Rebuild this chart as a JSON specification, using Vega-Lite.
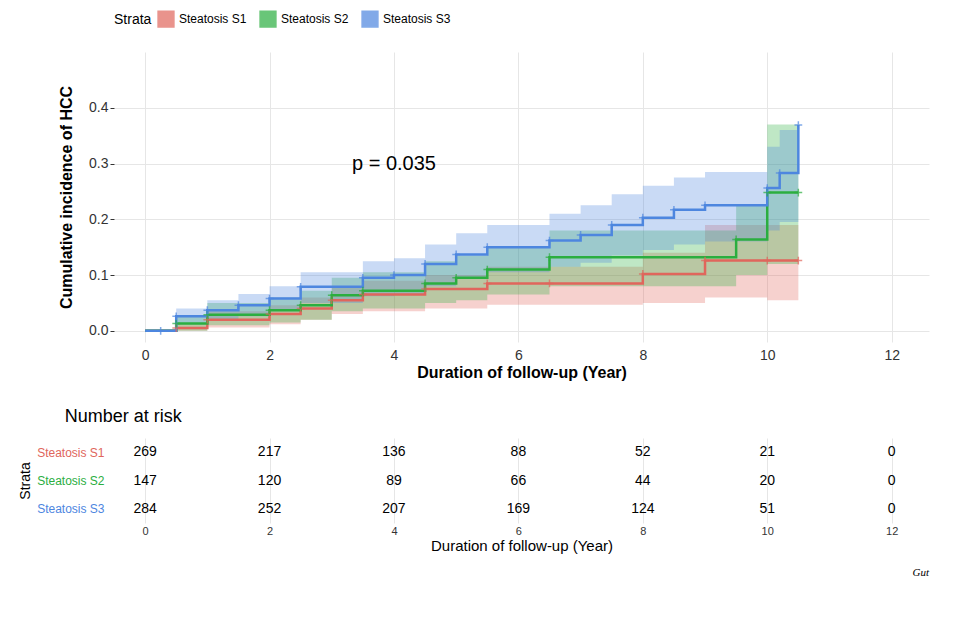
{
  "$schema": "https://vega.github.io/schema/vega-lite/v6.json",
  "background": "white",
  "padding": {"left": 18, "top": 10, "right": 5, "bottom": 5},
  "config": {
    "view": {"stroke": null},
    "font": "Liberation Sans",
    "axis": {"gridColor": "#e6e6e6", "domain": false, "tickColor": "#333", "tickSize": 4, "labelColor": "#333"}
  },
  "title": {"text": "Gut", "orient": "bottom", "anchor": "end", "font": "Liberation Serif", "fontStyle": "italic", "fontWeight": "normal", "fontSize": 11, "offset": 14},
  "datasets": {
    "km": [
      {"g": "Steatosis S1", "t": 0, "est": 0, "lo": 0, "hi": 0, "c": false},
      {"g": "Steatosis S1", "t": 0.5, "est": 0.005, "lo": 0, "hi": 0.012, "c": true},
      {"g": "Steatosis S1", "t": 1, "est": 0.02, "lo": 0.006, "hi": 0.035, "c": true},
      {"g": "Steatosis S1", "t": 2, "est": 0.03, "lo": 0.012, "hi": 0.046, "c": true},
      {"g": "Steatosis S1", "t": 2.5, "est": 0.04, "lo": 0.02, "hi": 0.06, "c": true},
      {"g": "Steatosis S1", "t": 3, "est": 0.055, "lo": 0.03, "hi": 0.08, "c": true},
      {"g": "Steatosis S1", "t": 3.5, "est": 0.065, "lo": 0.035, "hi": 0.09, "c": true},
      {"g": "Steatosis S1", "t": 4.5, "est": 0.075, "lo": 0.04, "hi": 0.1, "c": true},
      {"g": "Steatosis S1", "t": 5.5, "est": 0.085, "lo": 0.047, "hi": 0.115, "c": true},
      {"g": "Steatosis S1", "t": 6.5, "est": 0.085, "lo": 0.047, "hi": 0.115, "c": true},
      {"g": "Steatosis S1", "t": 8, "est": 0.102, "lo": 0.05, "hi": 0.14, "c": true},
      {"g": "Steatosis S1", "t": 9, "est": 0.126, "lo": 0.06, "hi": 0.19, "c": true},
      {"g": "Steatosis S1", "t": 10, "est": 0.126, "lo": 0.055, "hi": 0.19, "c": true},
      {"g": "Steatosis S1", "t": 10.5, "est": 0.126, "lo": 0.055, "hi": 0.19, "c": true},
      {"g": "Steatosis S2", "t": 0, "est": 0, "lo": 0, "hi": 0, "c": false},
      {"g": "Steatosis S2", "t": 0.5, "est": 0.013, "lo": 0, "hi": 0.026, "c": true},
      {"g": "Steatosis S2", "t": 1, "est": 0.029, "lo": 0.01, "hi": 0.05, "c": true},
      {"g": "Steatosis S2", "t": 2, "est": 0.037, "lo": 0.015, "hi": 0.06, "c": true},
      {"g": "Steatosis S2", "t": 2.5, "est": 0.046, "lo": 0.02, "hi": 0.072, "c": true},
      {"g": "Steatosis S2", "t": 3, "est": 0.064, "lo": 0.035, "hi": 0.095, "c": true},
      {"g": "Steatosis S2", "t": 3.5, "est": 0.072, "lo": 0.04, "hi": 0.105, "c": true},
      {"g": "Steatosis S2", "t": 4.5, "est": 0.085, "lo": 0.05, "hi": 0.125, "c": true},
      {"g": "Steatosis S2", "t": 5, "est": 0.095, "lo": 0.055, "hi": 0.135, "c": true},
      {"g": "Steatosis S2", "t": 5.5, "est": 0.11, "lo": 0.065, "hi": 0.15, "c": true},
      {"g": "Steatosis S2", "t": 6.5, "est": 0.132, "lo": 0.08, "hi": 0.18, "c": true},
      {"g": "Steatosis S2", "t": 9.5, "est": 0.164, "lo": 0.1, "hi": 0.225, "c": true},
      {"g": "Steatosis S2", "t": 10, "est": 0.248, "lo": 0.12, "hi": 0.37, "c": true},
      {"g": "Steatosis S2", "t": 10.5, "est": 0.248, "lo": 0.12, "hi": 0.37, "c": true},
      {"g": "Steatosis S3", "t": 0, "est": 0, "lo": 0, "hi": 0, "c": false},
      {"g": "Steatosis S3", "t": 0.25, "est": 0, "lo": 0, "hi": 0, "c": true},
      {"g": "Steatosis S3", "t": 0.5, "est": 0.026, "lo": 0.012, "hi": 0.04, "c": true},
      {"g": "Steatosis S3", "t": 1, "est": 0.037, "lo": 0.02, "hi": 0.055, "c": true},
      {"g": "Steatosis S3", "t": 1.5, "est": 0.046, "lo": 0.026, "hi": 0.066, "c": true},
      {"g": "Steatosis S3", "t": 2, "est": 0.058, "lo": 0.035, "hi": 0.08, "c": true},
      {"g": "Steatosis S3", "t": 2.5, "est": 0.079, "lo": 0.05, "hi": 0.105, "c": true},
      {"g": "Steatosis S3", "t": 3.5, "est": 0.095, "lo": 0.062, "hi": 0.125, "c": true},
      {"g": "Steatosis S3", "t": 4, "est": 0.1, "lo": 0.066, "hi": 0.13, "c": true},
      {"g": "Steatosis S3", "t": 4.5, "est": 0.12, "lo": 0.08, "hi": 0.155, "c": true},
      {"g": "Steatosis S3", "t": 5, "est": 0.137, "lo": 0.095, "hi": 0.175, "c": true},
      {"g": "Steatosis S3", "t": 5.5, "est": 0.15, "lo": 0.105, "hi": 0.19, "c": true},
      {"g": "Steatosis S3", "t": 6.5, "est": 0.162, "lo": 0.115, "hi": 0.21, "c": true},
      {"g": "Steatosis S3", "t": 7, "est": 0.172, "lo": 0.122, "hi": 0.225, "c": true},
      {"g": "Steatosis S3", "t": 7.5, "est": 0.19, "lo": 0.135, "hi": 0.245, "c": true},
      {"g": "Steatosis S3", "t": 8, "est": 0.203, "lo": 0.145, "hi": 0.26, "c": true},
      {"g": "Steatosis S3", "t": 8.5, "est": 0.217, "lo": 0.155, "hi": 0.275, "c": true},
      {"g": "Steatosis S3", "t": 9, "est": 0.225, "lo": 0.16, "hi": 0.285, "c": true},
      {"g": "Steatosis S3", "t": 10, "est": 0.256, "lo": 0.18, "hi": 0.33, "c": true},
      {"g": "Steatosis S3", "t": 10.2, "est": 0.283, "lo": 0.195, "hi": 0.36, "c": true},
      {"g": "Steatosis S3", "t": 10.5, "est": 0.369, "lo": 0.2, "hi": 0.36, "c": true}
    ],
    "risk": [
      {"g": "Steatosis S1", "t": 0, "n": 269}, {"g": "Steatosis S1", "t": 2, "n": 217}, {"g": "Steatosis S1", "t": 4, "n": 136}, {"g": "Steatosis S1", "t": 6, "n": 88}, {"g": "Steatosis S1", "t": 8, "n": 52}, {"g": "Steatosis S1", "t": 10, "n": 21}, {"g": "Steatosis S1", "t": 12, "n": 0},
      {"g": "Steatosis S2", "t": 0, "n": 147}, {"g": "Steatosis S2", "t": 2, "n": 120}, {"g": "Steatosis S2", "t": 4, "n": 89}, {"g": "Steatosis S2", "t": 6, "n": 66}, {"g": "Steatosis S2", "t": 8, "n": 44}, {"g": "Steatosis S2", "t": 10, "n": 20}, {"g": "Steatosis S2", "t": 12, "n": 0},
      {"g": "Steatosis S3", "t": 0, "n": 284}, {"g": "Steatosis S3", "t": 2, "n": 252}, {"g": "Steatosis S3", "t": 4, "n": 207}, {"g": "Steatosis S3", "t": 6, "n": 169}, {"g": "Steatosis S3", "t": 8, "n": 124}, {"g": "Steatosis S3", "t": 10, "n": 51}, {"g": "Steatosis S3", "t": 12, "n": 0}
    ],
    "pv": [{"t": 4, "y": 0.3, "label": "p = 0.035"}]
  },
  "spacing": 28,
  "vconcat": [
    {
      "width": 815,
      "height": 290,
      "layer": [
        {
          "data": {"name": "km"},
          "mark": {"type": "area", "interpolate": "step-after", "opacity": 0.3},
          "encoding": {
            "x": {"field": "t", "type": "quantitative"},
            "y": {"field": "lo", "type": "quantitative"},
            "y2": {"field": "hi"},
            "color": {
              "field": "g", "type": "nominal",
              "scale": {"domain": ["Steatosis S1", "Steatosis S2", "Steatosis S3"], "range": ["#E0665C", "#2BAE3F", "#4D86DF"]},
              "legend": {"orient": "top", "direction": "horizontal", "title": "Strata", "titleOrient": "left", "titleFontSize": 14, "titleFontWeight": "normal", "titleColor": "#000", "labelFontSize": 12, "labelColor": "#000", "symbolType": "square", "symbolSize": 250, "symbolOpacity": 0.35, "offset": 22}
            }
          }
        },
        {
          "data": {"name": "km"},
          "mark": {"type": "line", "interpolate": "step-after", "strokeWidth": 2.5},
          "encoding": {
            "x": {"field": "t", "type": "quantitative", "scale": {"domain": [-0.5, 12.6], "nice": false}, "axis": {"values": [0, 2, 4, 6, 8, 10, 12], "format": "d", "title": "Duration of follow-up (Year)", "titleFontSize": 16, "titleFontWeight": "bold", "titleColor": "#000", "labelFontSize": 14, "titlePadding": 2, "tickSize": 0, "labelPadding": 6}},
            "y": {"field": "est", "type": "quantitative", "scale": {"domain": [-0.02, 0.5], "nice": false}, "axis": {"values": [0, 0.1, 0.2, 0.3, 0.4], "format": ".1f", "title": "Cumulative incidence of HCC", "titleFontSize": 16, "titleFontWeight": "bold", "titleColor": "#000", "labelFontSize": 14, "titlePadding": 14}},
            "color": {"field": "g", "type": "nominal"}
          }
        },
        {
          "data": {"name": "km"},
          "transform": [{"filter": "datum.c"}],
          "mark": {"type": "point", "shape": "M-1,0H1M0,-1V1", "size": 60, "strokeWidth": 1.5, "filled": false},
          "encoding": {
            "x": {"field": "t", "type": "quantitative"},
            "y": {"field": "est", "type": "quantitative"},
            "color": {"field": "g", "type": "nominal"}
          }
        },
        {
          "data": {"name": "pv"},
          "mark": {"type": "text", "fontSize": 20, "color": "#000"},
          "encoding": {
            "x": {"field": "t", "type": "quantitative"},
            "y": {"field": "y", "type": "quantitative"},
            "text": {"field": "label"}
          }
        }
      ]
    },
    {
      "width": 815,
      "height": 85,
      "title": {"text": "Number at risk", "anchor": "start", "fontSize": 18, "fontWeight": "normal", "color": "#000", "offset": 12, "dx": 46},
      "data": {"name": "risk"},
      "mark": {"type": "text", "fontSize": 14, "color": "#000"},
      "encoding": {
        "x": {"field": "t", "type": "quantitative", "scale": {"domain": [-0.5, 12.6], "nice": false}, "axis": {"values": [0, 2, 4, 6, 8, 10, 12], "format": "d", "title": "Duration of follow-up (Year)", "titleFontSize": 15, "titleFontWeight": "normal", "titleColor": "#000", "labelFontSize": 11, "tickSize": 0, "titlePadding": 2}},
        "y": {"field": "g", "type": "nominal", "sort": ["Steatosis S1", "Steatosis S2", "Steatosis S3"], "axis": {"title": "Strata", "titleFontSize": 14, "titleFontWeight": "normal", "titleColor": "#000", "labelFontSize": 12, "tickSize": 0, "labelPadding": 10, "labelColor": {"expr": "datum.value == 'Steatosis S1' ? '#E0665C' : datum.value == 'Steatosis S2' ? '#2BAE3F' : '#4D86DF'"}}},
        "text": {"field": "n"}
      }
    }
  ]
}
